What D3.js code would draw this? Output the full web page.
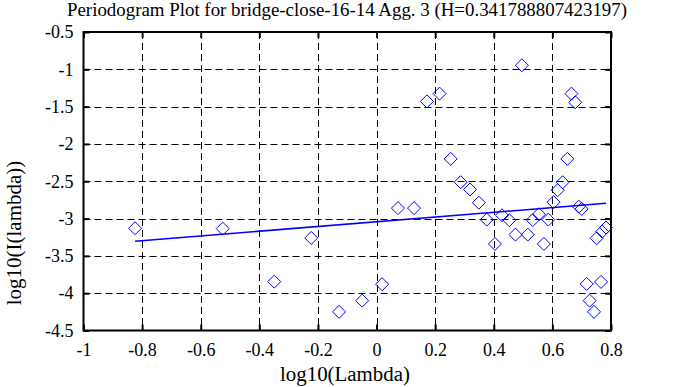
<!DOCTYPE html>
<html><head><meta charset="utf-8">
<script src="https://cdn.jsdelivr.net/npm/d3@7"></script>
<style>body{margin:0;background:#fff}svg{display:block}text{font-family:"Liberation Serif","DejaVu Serif",serif;fill:#000}</style>
</head><body>
<script>
const titleText = "Periodogram Plot for bridge-close-16-14 Agg. 3 (H=0.341788807423197)";
const xLabel = "log10(Lambda)";
const yLabel = "log10(I(lambda))";
const xTicks = [-1,-0.8,-0.6,-0.4,-0.2,0,0.2,0.4,0.6,0.8];
const yTicks = [-0.5,-1,-1.5,-2,-2.5,-3,-3.5,-4,-4.5];
const logLambda = [-0.824,-0.525,-0.223,-0.349,-0.128,-0.049,0.019,0.073,0.128,0.172,0.215,0.253,0.287,0.319,0.349,0.376,0.404,0.428,0.453,0.474,0.516,0.533,0.554,0.571,0.586,0.604,0.618,0.635,0.496,0.651,0.665,0.678,0.690,0.700,0.751,0.770,0.783,0.717,0.766,0.727,0.742];
const logI = [-3.13,-3.135,-3.26,-3.845,-4.25,-4.10,-3.88,-2.86,-2.86,-1.43,-1.326,-2.20,-2.513,-2.61,-2.787,-3.014,-3.34,-2.956,-3.022,-3.215,-3.215,-3.02,-2.942,-3.34,-3.014,-2.78,-2.62,-2.513,-0.946,-2.20,-1.326,-1.442,-2.84,-2.871,-3.264,-3.175,-3.12,-3.876,-3.849,-4.10,-4.25];
const H = 0.341788807423197;
const fitSlope = 1 - 2*H;
const fitIntercept = -3.043;

const W = 695, Hh = 387;
const svg = d3.select("body").append("svg").attr("width", W).attr("height", Hh);
const x = d3.scaleLinear().domain([-1, 0.8]).range([83.5, 611]);
const y = d3.scaleLinear().domain([-4.5, -0.5]).range([330.5, 32]);
const fs = 18;
const fmt = d => String(d);

// grid
const grid = svg.append("g").attr("stroke", "#000").attr("stroke-width", 1).attr("stroke-dasharray", "7,4").attr("fill","none");
xTicks.slice(1, -1).forEach(t => grid.append("line").attr("x1", Math.round(x(t))+0.5).attr("x2", Math.round(x(t))+0.5).attr("y1", y(-0.5)).attr("y2", y(-4.5)));
yTicks.slice(1, -1).forEach(t => grid.append("line").attr("y1", Math.round(y(t))+0.5).attr("y2", Math.round(y(t))+0.5).attr("x1", x(-1)).attr("x2", x(0.8)));

// axes (inward ticks, mirrored)
function styleAxis(g){ g.select(".domain").remove(); g.selectAll(".tick line").attr("stroke","#000").attr("stroke-width",2); g.selectAll("text").style("font-size", fs+"px").attr("fill","#000"); }
svg.append("g").attr("transform", `translate(0,${y(-4.5)})`)
  .call(d3.axisBottom(x).tickValues(xTicks).tickSizeInner(-6).tickSizeOuter(0).tickFormat(fmt))
  .call(styleAxis).selectAll("text").attr("dy", null).attr("y", 25.5);
svg.append("g").attr("transform", `translate(0,${y(-0.5)})`)
  .call(d3.axisTop(x).tickValues(xTicks).tickSizeInner(-6).tickSizeOuter(0).tickFormat(""))
  .call(styleAxis);
svg.append("g").attr("transform", `translate(${x(-1)},0)`)
  .call(d3.axisLeft(y).tickValues(yTicks).tickSizeInner(-6).tickSizeOuter(0).tickPadding(10).tickFormat(fmt))
  .call(styleAxis);
svg.append("g").attr("transform", `translate(${x(0.8)},0)`)
  .call(d3.axisRight(y).tickValues(yTicks).tickSizeInner(-6).tickSizeOuter(0).tickFormat(""))
  .call(styleAxis);

// frame
svg.append("rect").attr("x", x(-1)).attr("y", y(-0.5)).attr("width", x(0.8)-x(-1)).attr("height", y(-4.5)-y(-0.5))
  .attr("fill","none").attr("stroke","#000").attr("stroke-width",2);

// points
const pts = d3.range(logLambda.length).map(i => ({x: logLambda[i], y: logI[i]}));
const r = 6.5;
svg.append("g").selectAll("path").data(pts).join("path")
  .attr("d", d => { const cx = x(d.x), cy = y(d.y); return `M${cx},${cy-r}L${cx+r},${cy}L${cx},${cy+r}L${cx-r},${cy}Z`; })
  .attr("fill","none").attr("stroke","#0000ff").attr("stroke-width",1);

// fit line
const xe = d3.extent(logLambda);
const line = d3.line().x(d => x(d)).y(d => y(fitIntercept + fitSlope*d));
svg.append("path").datum(xe).attr("d", line).attr("stroke","#0000ff").attr("stroke-width",1.6).attr("fill","none");

// labels
svg.append("text").attr("x", 347).attr("y", 16).attr("text-anchor","middle").style("font-size", "18px")
  .attr("textLength", 560).attr("lengthAdjust","spacingAndGlyphs").text(titleText);
svg.append("text").attr("x", 345).attr("y", 381).attr("text-anchor","middle").style("font-size", "20px")
  .attr("textLength", 130).attr("lengthAdjust","spacingAndGlyphs").text(xLabel);
svg.append("text").attr("transform","translate(21,233) rotate(-90)").attr("text-anchor","middle").style("font-size", "21px")
  .text(yLabel);
</script>
</body></html>
